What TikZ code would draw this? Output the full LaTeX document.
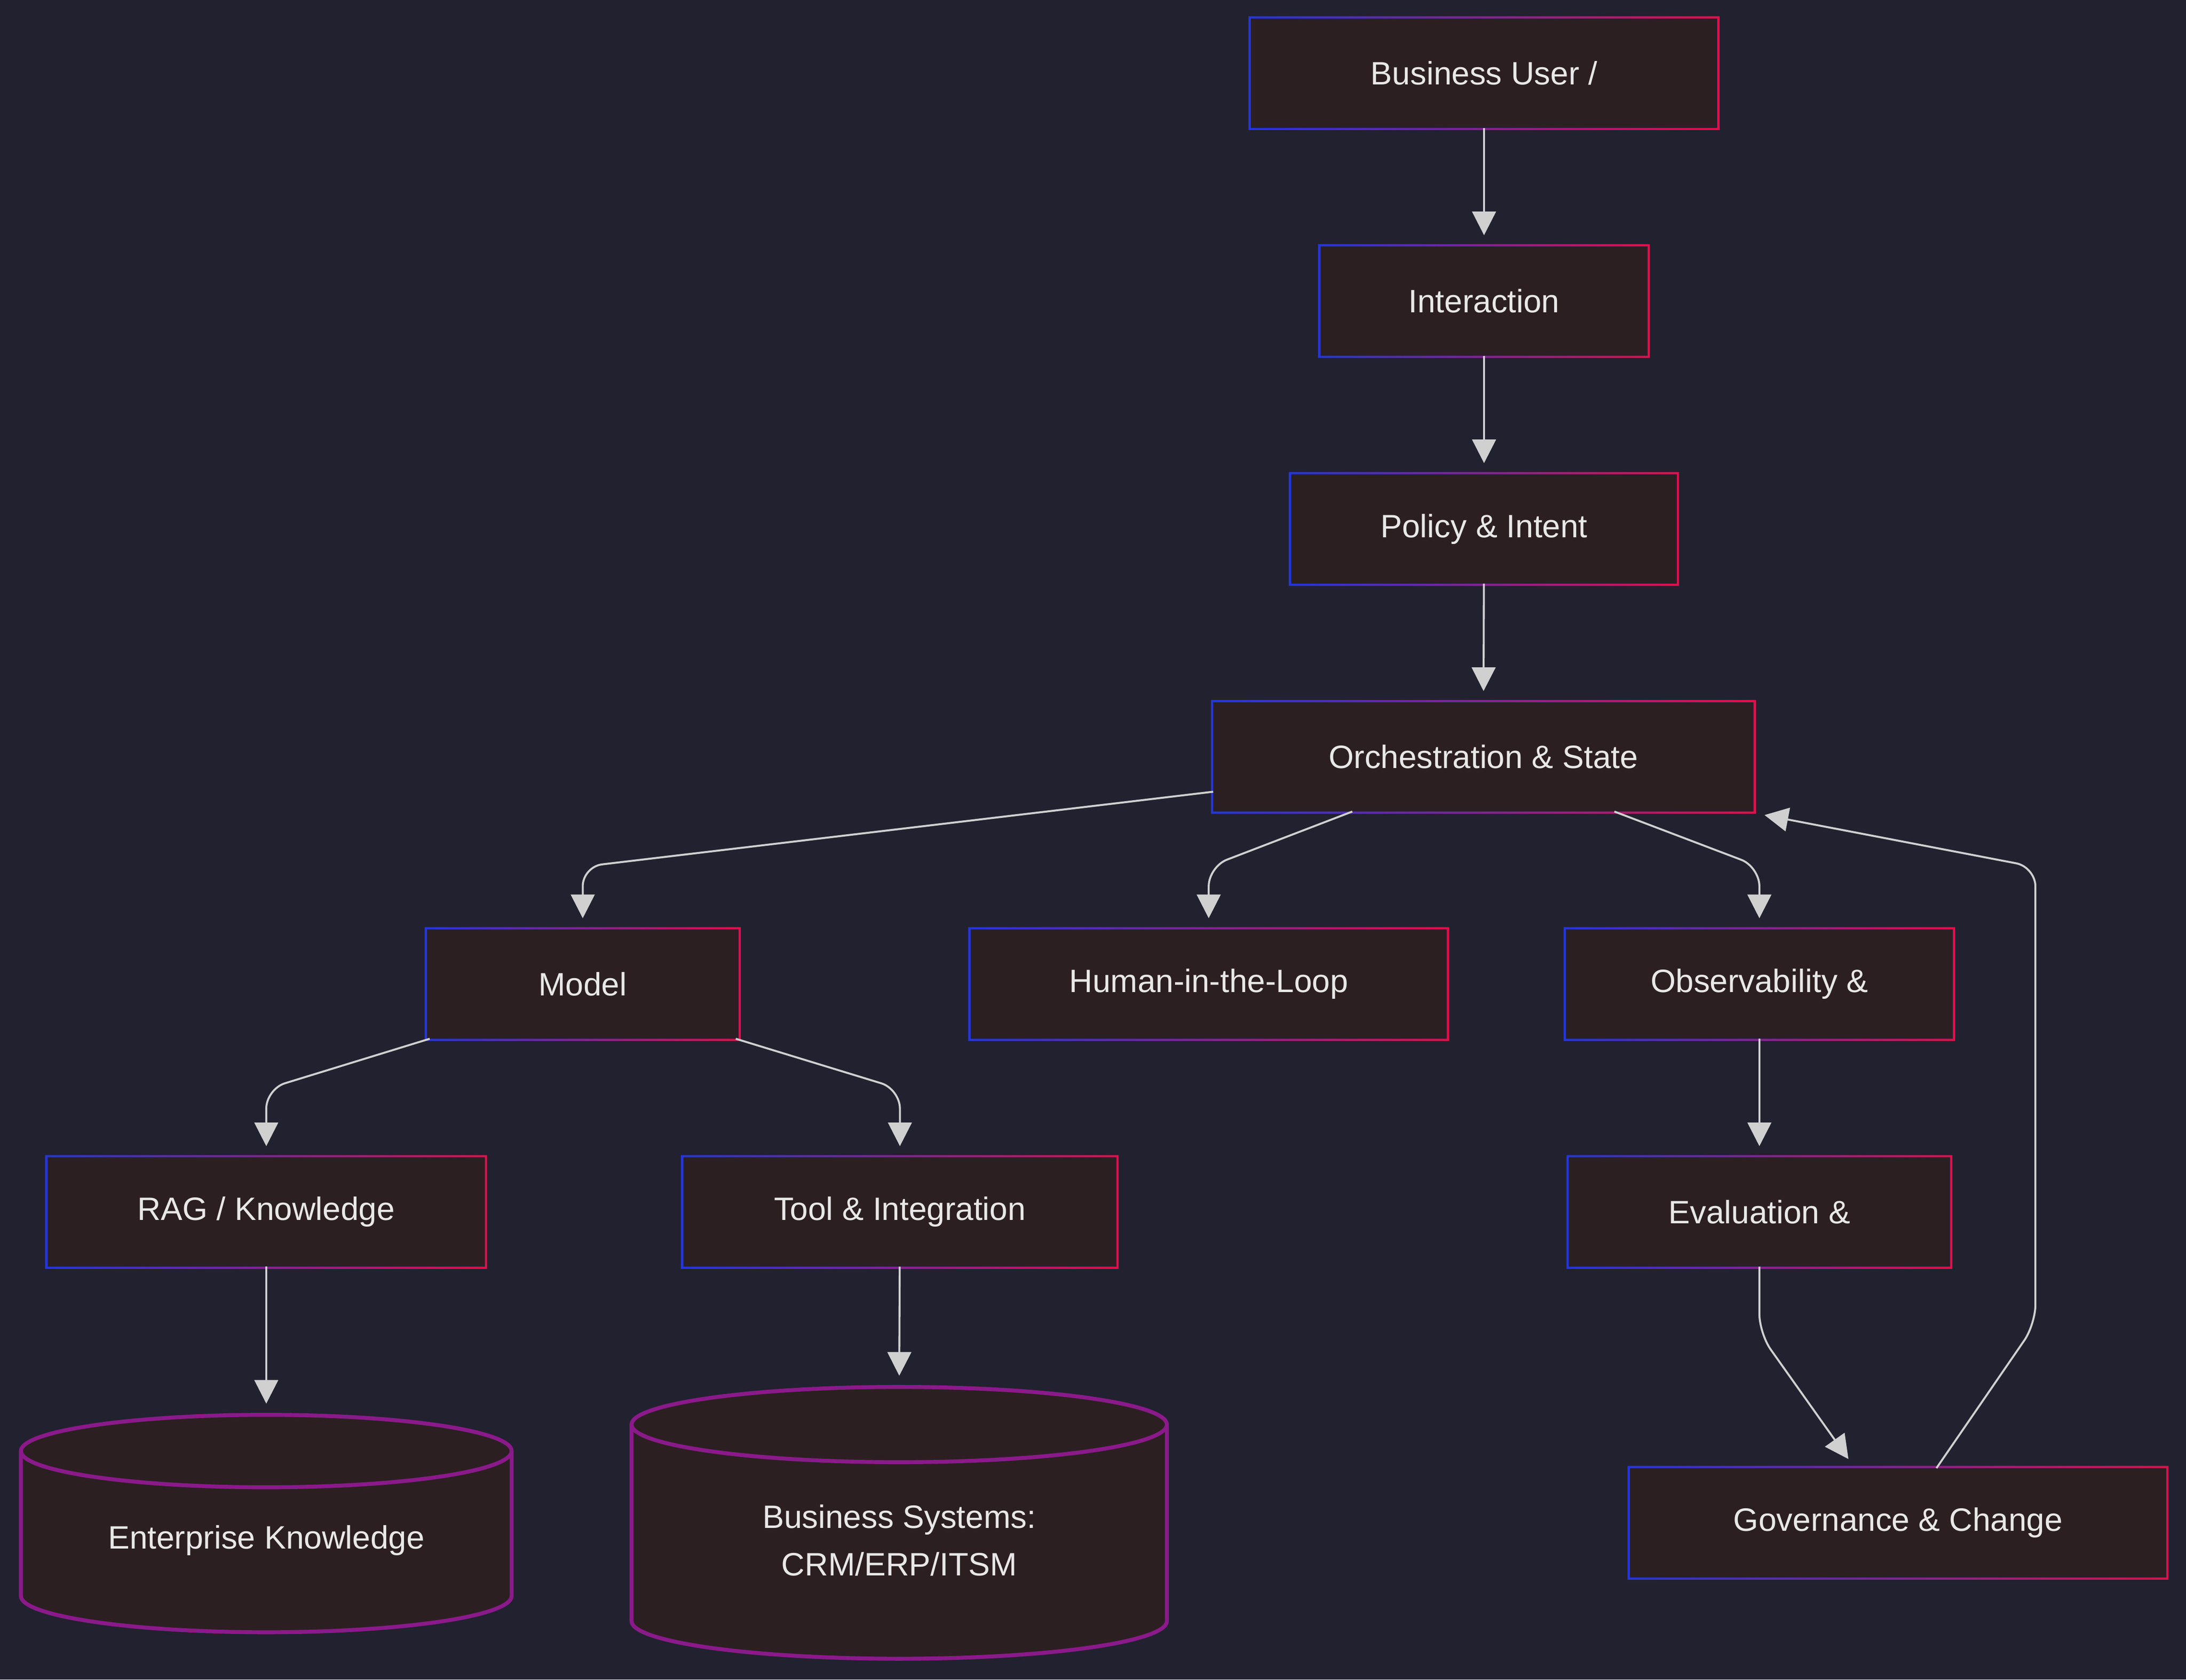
\documentclass[tikz,border=0pt]{standalone}
\usepackage{fontspec}
\setmainfont{Liberation Sans}
\usetikzlibrary{arrows.meta,calc}
\definecolor{bg}{HTML}{22212F}
\definecolor{boxfill}{HTML}{2C1F22}
\definecolor{edgeblue}{HTML}{2536D8}
\definecolor{edgered}{HTML}{E0104A}
\definecolor{edgemid}{HTML}{8A1A8A}
\definecolor{txt}{HTML}{E8E8E8}
\definecolor{arr}{HTML}{D0D0D0}
\tikzset{>={Triangle[length=0.17cm,width=0.17cm]}}
\tikzset{
  box/.style={rectangle, fill=boxfill, text=txt, minimum height=0.77cm,
    inner sep=0pt, font=\fontsize{6.6}{8}\selectfont},
  arr/.style={->, draw=arr, line width=0.4pt, shorten >=0.08cm, rounded corners=0.14cm},
}
\newcommand{\bord}[1]{%
  \shade[left color=edgeblue, right color=edgered, even odd rule]
    ($(#1.south west)+(-1.6,-1.6)$) rectangle ($(#1.north east)+(1.6,1.6)$)
    (#1.south west) rectangle (#1.north east);}
\newcommand{\cyl}[6]{% x, top y, bottom y, rx, ry, name
  \fill[boxfill] (#1-#4,#2) -- (#1-#4,#3) arc[start angle=180,end angle=360,x radius=#4*0.01cm,y radius=#5*0.01cm]
    -- (#1+#4,#2) arc[start angle=0,end angle=180,x radius=#4*0.01cm,y radius=#5*0.01cm] -- cycle;
  \draw[edgemid, line width=0.8pt] (#1-#4,#2) -- (#1-#4,#3) arc[start angle=180,end angle=360,x radius=#4*0.01cm,y radius=#5*0.01cm]
    -- (#1+#4,#2) arc[start angle=0,end angle=180,x radius=#4*0.01cm,y radius=#5*0.01cm]
    arc[start angle=180,end angle=360,x radius=#4*0.01cm,y radius=#5*0.01cm];
  \coordinate (#6top) at (#1,#2+#5);}
\begin{document}
\begin{tikzpicture}[x=0.01cm,y=0.01cm]
\fill[bg] (0,0) rectangle (1568,1205);
\useasboundingbox (0,0) rectangle (1568,1205);
%boxes
\node[box, minimum width=3.33cm] (user) at (1064.5,1152.5) {Business User /};
\node[box, minimum width=2.33cm] (inter) at (1064.5,989) {Interaction};
\node[box, minimum width=2.75cm] (policy) at (1064.5,825.5) {Policy \& Intent};
\node[box, minimum width=3.86cm] (orch) at (1064,662) {Orchestration \& State};
\node[box, minimum width=2.22cm] (model) at (418,499) {Model};
\node[box, minimum width=3.40cm] (hitl) at (867,499) {Human-in-the-Loop};
\node[box, minimum width=2.76cm] (obs) at (1262,499) {Observability \&};
\node[box, minimum width=3.12cm] (rag) at (191,335.5) {RAG / Knowledge};
\node[box, minimum width=3.09cm] (tool) at (645.5,335.5) {Tool \& Integration};
\node[box, minimum width=2.72cm] (eval) at (1262,335.5) {Evaluation \&};
\node[box, minimum width=3.83cm] (gov) at (1361.5,112.5) {Governance \& Change};
\foreach \n in {user,inter,policy,orch,model,hitl,obs,rag,tool,eval,gov}
  {\bord{\n}}
%stores
\cyl{191}{164}{60}{176}{26}{ent}
\cyl{645}{183}{42}{192}{27}{biz}
\node[box, fill=none] (enttxt) at (191,100) {Enterprise Knowledge};
\node[box, fill=none, align=center] (biztxt) at (645,100) {Business Systems:\\[0.06cm]CRM/ERP/ITSM};
%connectors
\draw[arr] (user) -- (inter);
\draw[arr] (inter) -- (policy);
\draw[arr] (policy) -- (orch);
\draw[arr] ($(orch.west)+(0,-25)$) -- ($(model.north)+(0,45)$) -- (model.north);
\draw[arr] ($(orch.south)+(-94,0)$) -- ($(hitl.north)+(0,45)$) -- (hitl.north);
\draw[arr] ($(orch.south)+(94,0)$) -- ($(obs.north)+(0,45)$) -- (obs.north);
\draw[arr] ($(model.south west)+(2,0)$) -- ($(rag.north)+(0,49)$) -- (rag.north);
\draw[arr] ($(model.south east)+(-2,0)$) -- ($(tool.north)+(0,49)$) -- (tool.north);
\draw[arr] (obs) -- (eval);
\draw[arr] (rag) -- (enttop);
\draw[arr] (tool) -- (biztop);
\draw[arr] (eval.south) -- ($(eval.south)+(0,-48)$) -- ($(gov.north)+(-31,0)$);
\draw[arr] ($(gov.north)+(27.5,0)$) -- (1460,255) -- (1460,583) -- ($(orch.south east)+(0,-1)$);
\end{tikzpicture}
\end{document}
